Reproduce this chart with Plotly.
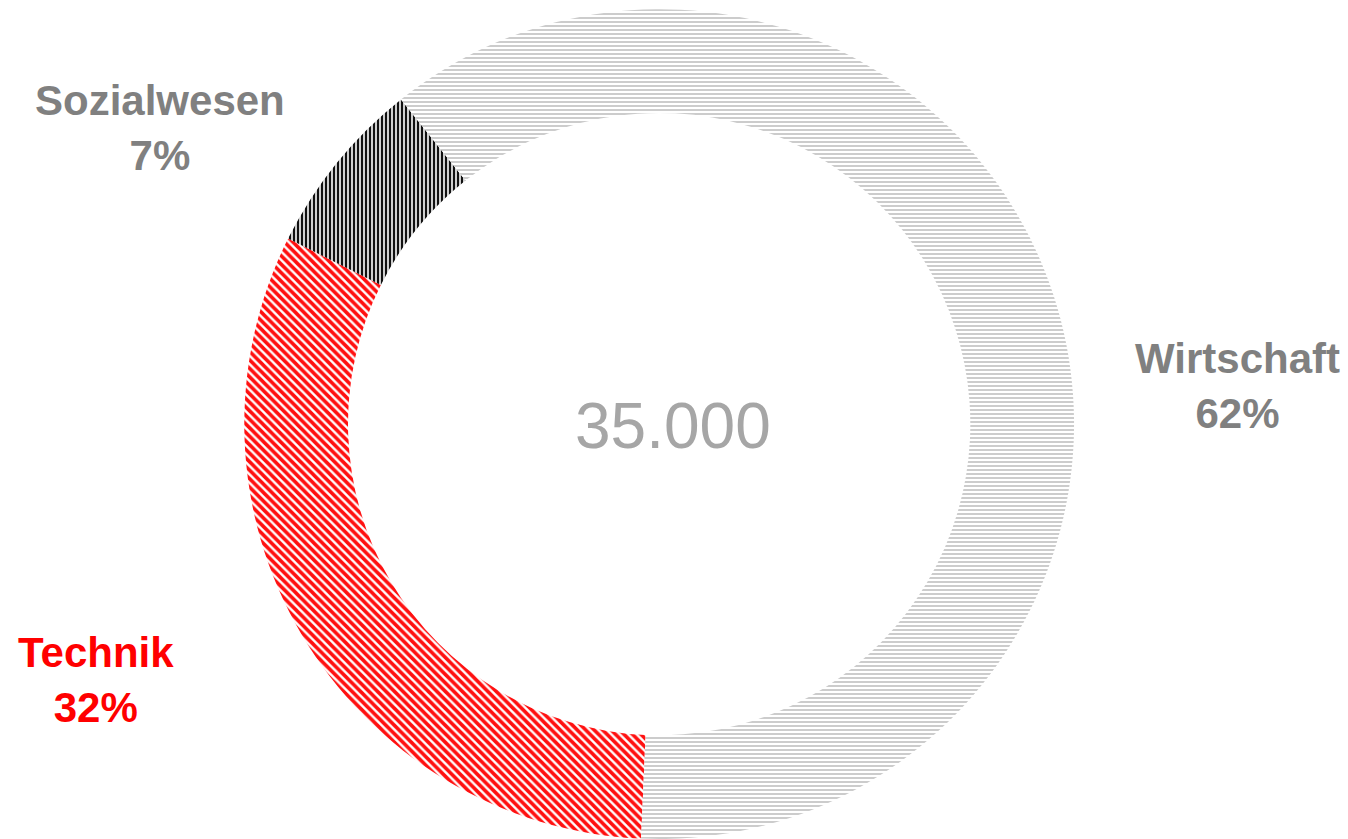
import plotly.graph_objects as go

categories = ["Technik", "Sozialwesen", "Wirtschaft"]
values = [32, 7, 62]
total_label = "35.000"
label_colors = ["#ff0000", "#808080", "#808080"]

fig = go.Figure()
fig.add_trace(go.Pie(
    labels=categories,
    values=values,
    hole=0.75,
    sort=False,
    direction="clockwise",
    rotation=182.5,
    textinfo="none",
    hoverinfo="label+percent",
    showlegend=False,
    marker=dict(
        colors=["#ffffff", "#ffffff", "#ffffff"],
        line=dict(width=0),
        pattern=dict(
            shape=["\\", "|", "-"],
            fgcolor=["#ff1010", "#111111", "#cccccc"],
            bgcolor=["#ffffff", "#ffffff", "#ffffff"],
            size=[6, 4, 4],
            solidity=[0.6, 0.6, 0.5],
        ),
    ),
    domain=dict(x=[0.181, 0.797], y=[0.0, 0.989]),
))

label_pos = {"Technik": (96, 680), "Sozialwesen": (160, 128), "Wirtschaft": (1237, 386)}
W, H = 1348, 839
for cat, val, col in zip(categories, values, label_colors):
    px, py = label_pos[cat]
    fig.add_annotation(
        x=px / W, y=1 - py / H, xref="paper", yref="paper",
        text=f"<b>{cat}<br>{val}%</b>", showarrow=False,
        font=dict(family="Liberation Sans, Arial", size=42, color=col),
        xanchor="center", yanchor="middle", align="center",
    )

fig.add_annotation(
    x=673 / W, y=1 - 426 / H, xref="paper", yref="paper",
    text=total_label, showarrow=False,
    font=dict(family="Liberation Sans, Arial", size=64, color="#a6a6a6"),
    xanchor="center", yanchor="middle",
)

fig.update_layout(
    width=W, height=H,
    margin=dict(l=0, r=0, t=0, b=0),
    paper_bgcolor="white", plot_bgcolor="white",
)
fig.write_html("out.html", config={"displayModeBar": False},
               post_script="document.body.style.margin='0';")
